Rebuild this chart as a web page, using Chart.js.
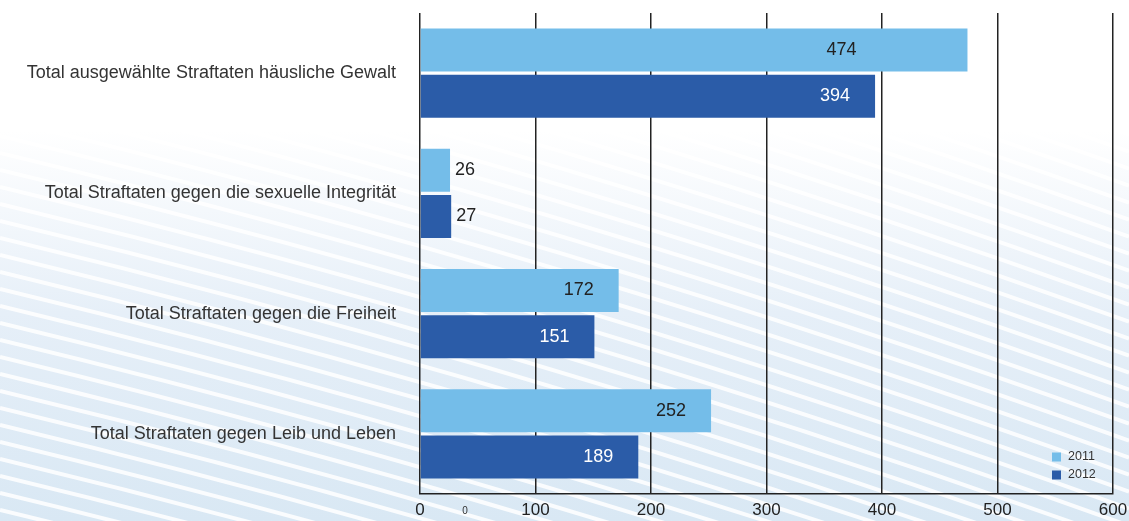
<!DOCTYPE html>
<html>
<head>
<meta charset="utf-8">
<script src="https://cdn.jsdelivr.net/npm/chart.js@4.4.1/dist/chart.umd.min.js"></script>
<style>
  html, body { margin: 0; padding: 0; background: #fff; }
  #wrap { width: 1129px; height: 521px; position: relative; }
</style>
</head>
<body>
<div id="wrap"><canvas id="chart" width="1129" height="521"></canvas></div>
<script>
const categories = [
    'Total ausgewählte Straftaten häusliche Gewalt',
    'Total Straftaten gegen die sexuelle Integrität',
    'Total Straftaten gegen die Freiheit',
    'Total Straftaten gegen Leib und Leben'
];
const values2011 = [474, 26, 172, 252];
const values2012 = [394, 27, 151, 189];
const seriesLabels = ['2011', '2012'];
const xTicks = [0, 100, 200, 300, 400, 500, 600];

const FONT = '"Liberation Sans", Arial, Helvetica, sans-serif';

// light blue background with white diagonal stripes
const backgroundPlugin = {
    id: 'bg',
    beforeDraw(chart) {
        const c = chart.ctx;
        const w = chart.width, h = chart.height;
        c.save();
        const g = c.createLinearGradient(0, 0, 0, h);
        g.addColorStop(0, '#ffffff');
        g.addColorStop(0.25, '#ffffff');
        g.addColorStop(0.6, '#e6eff8');
        g.addColorStop(1, '#d9e8f4');
        c.fillStyle = g;
        c.fillRect(0, 0, w, h);
        c.strokeStyle = 'rgba(255,255,255,0.85)';
        c.lineWidth = 4;
        for (let k = -40; k < 40; k++) {
            const y0 = k * 17;
            c.beginPath();
            c.moveTo(0, y0);
            c.quadraticCurveTo(w * 0.5, y0 + w * 0.12, w, y0 + w * 0.3);
            c.stroke();
        }
        c.restore();
    }
};

// value labels on the bars
const valueLabels = {
    id: 'valueLabels',
    afterDatasetsDraw(chart) {
        const c = chart.ctx;
        const xs = chart.scales.x;
        const cap = xs.getPixelForValue(365);
        c.save();
        c.font = '18px ' + FONT;
        c.textBaseline = 'middle';
        chart.data.datasets.forEach((ds, i) => {
            chart.getDatasetMeta(i).data.forEach((bar, j) => {
                const v = ds.data[j];
                if (v < 50) {
                    c.fillStyle = '#222';
                    c.textAlign = 'left';
                    c.fillText(v, bar.x + 5, bar.y);
                } else {
                    c.fillStyle = i === 0 ? '#222' : '#ffffff';
                    c.textAlign = 'center';
                    c.fillText(v, Math.min(bar.x - 40, cap), bar.y);
                }
            });
        });
        c.restore();
    }
};

// small legend in the lower right corner of the plot
const cornerLegend = {
    id: 'cornerLegend',
    afterDraw(chart) {
        const c = chart.ctx;
        const a = chart.chartArea;
        c.save();
        c.font = '12.5px ' + FONT;
        c.textBaseline = 'middle';
        c.textAlign = 'left';
        chart.data.datasets.forEach((ds, i) => {
            const y = a.bottom - 37 + i * 18;
            c.fillStyle = ds.backgroundColor;
            c.fillRect(a.right - 61, y - 4.5, 9, 9);
            c.fillStyle = '#333';
            c.fillText(ds.label, a.right - 45, y);
        });
        // stray "0" under the axis
        c.font = '10px ' + FONT;
        c.textAlign = 'center';
        c.fillStyle = '#333';
        c.fillText('0', chart.scales.x.getPixelForValue(39), a.bottom + 17);
        c.restore();
    }
};

new Chart(document.getElementById('chart'), {
    type: 'bar',
    data: {
        labels: categories,
        datasets: [
            { label: seriesLabels[0], data: values2011, backgroundColor: '#74bde9' },
            { label: seriesLabels[1], data: values2012, backgroundColor: '#2b5ca8' }
        ]
    },
    options: {
        indexAxis: 'y',
        responsive: false,
        animation: false,
        events: [],
        categoryPercentage: 0.77,
        barPercentage: 0.93,
        layout: { padding: { top: 13, left: 0, right: 0, bottom: 0 } },
        plugins: {
            legend: { display: false },
            tooltip: { enabled: false }
        },
        scales: {
            x: {
                min: 0,
                max: 600,
                afterBuildTicks(scale) {
                    scale.ticks = xTicks.map(v => ({ value: v }));
                },
                afterFit(scale) {
                    scale.height = 27;
                    scale.paddingLeft = 0;
                    scale.paddingRight = 16;
                },
                grid: { color: '#222', lineWidth: 1.5, drawTicks: false },
                border: { display: true, color: '#222', width: 1.5 },
                ticks: {
                    color: '#222',
                    padding: 6,
                    font: { family: FONT, size: 17 }
                }
            },
            y: {
                afterFit(scale) {
                    scale.width = 420;
                    scale.paddingTop = 0;
                    scale.paddingBottom = 0;
                },
                grid: { display: false },
                border: { display: false },
                ticks: {
                    color: '#333',
                    padding: 16,
                    font: { family: FONT, size: 18 }
                }
            }
        }
    },
    plugins: [backgroundPlugin, valueLabels, cornerLegend]
});
</script>
</body>
</html>
